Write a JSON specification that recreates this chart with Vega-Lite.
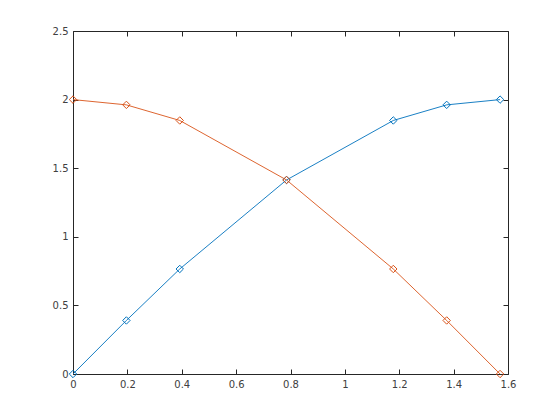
{
  "$schema": "https://vega.github.io/schema/vega-lite/v6.json",
  "width": 435,
  "height": 343,
  "autosize": {"type": "none"},
  "padding": {"left": 73, "top": 31, "right": 52, "bottom": 46},
  "background": "white",
  "config": {
    "view": {"stroke": null},
    "axis": {"labelFont": "DejaVu Sans", "labelFontSize": 10, "labelColor": "#404040", "domainColor": "#262626", "tickColor": "#262626", "grid": false, "title": null, "labelFlush": false}
  },
  "data": {"values": [
    {"x": 0, "y": 0, "s": "a"},
    {"x": 0.19635, "y": 0.3902, "s": "a"},
    {"x": 0.3927, "y": 0.7654, "s": "a"},
    {"x": 0.7854, "y": 1.4142, "s": "a"},
    {"x": 1.1781, "y": 1.8478, "s": "a"},
    {"x": 1.37445, "y": 1.9616, "s": "a"},
    {"x": 1.5708, "y": 2.0, "s": "a"},
    {"x": 0, "y": 2.0, "s": "b"},
    {"x": 0.19635, "y": 1.9616, "s": "b"},
    {"x": 0.3927, "y": 1.8478, "s": "b"},
    {"x": 0.7854, "y": 1.4142, "s": "b"},
    {"x": 1.1781, "y": 0.7654, "s": "b"},
    {"x": 1.37445, "y": 0.3902, "s": "b"},
    {"x": 1.5708, "y": 0, "s": "b"}
  ]},
  "layer": [
    {
      "mark": {"type": "line", "opacity": 0},
      "encoding": {
        "x": {"field": "x", "type": "quantitative", "scale": {"domain": [0, 1.6], "nice": false, "zero": false},
          "axis": {"orient": "top", "values": [0, 0.2, 0.4, 0.6, 0.8, 1, 1.2, 1.4, 1.6], "tickSize": -5, "labels": false}},
        "y": {"field": "y", "type": "quantitative", "scale": {"domain": [0, 2.5], "nice": false},
          "axis": {"orient": "right", "values": [0, 0.5, 1, 1.5, 2, 2.5], "tickSize": -5, "labels": false}},
        "detail": {"field": "s"}
      }
    },
    {
      "mark": {"type": "line", "strokeWidth": 0.9, "point": {"shape": "diamond", "filled": false, "size": 55, "strokeWidth": 1}},
      "encoding": {
        "x": {"field": "x", "type": "quantitative", "scale": {"domain": [0, 1.6], "nice": false, "zero": false},
          "axis": {"orient": "bottom", "values": [0, 0.2, 0.4, 0.6, 0.8, 1, 1.2, 1.4, 1.6], "tickSize": -5, "labelPadding": 10, "format": "~g"}},
        "y": {"field": "y", "type": "quantitative", "scale": {"domain": [0, 2.5], "nice": false},
          "axis": {"orient": "left", "values": [0, 0.5, 1, 1.5, 2, 2.5], "tickSize": -5, "labelPadding": 10, "format": "~g"}},
        "color": {"field": "s", "type": "nominal", "scale": {"domain": ["a", "b"], "range": ["#0072BD", "#D95319"]}, "legend": null}
      }
    }
  ],
  "resolve": {"axis": {"x": "independent", "y": "independent"}}
}
